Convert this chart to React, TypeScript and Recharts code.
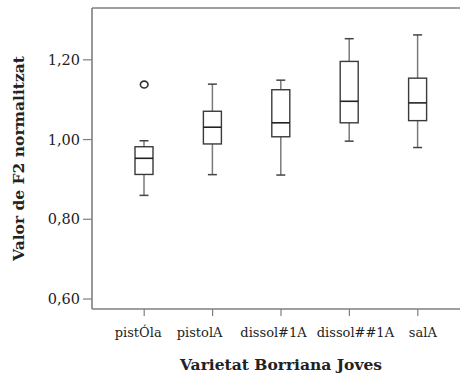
import React from 'react';
import { ComposedChart, Bar, Scatter, XAxis, YAxis, ReferenceLine } from 'recharts';

const categories = ['pistÓla', 'pistolA', 'dissol#1A', 'dissol##1A', 'salA'];
const whiskerLow = [0.86, 0.912, 0.911, 0.996, 0.98];
const q1 = [0.9125, 0.989, 1.007, 1.042, 1.0475];
const median = [0.953, 1.031, 1.042, 1.096, 1.092];
const q3 = [0.982, 1.071, 1.125, 1.196, 1.154];
const whiskerHigh = [0.997, 1.139, 1.149, 1.253, 1.2625];
const outliers: (number | null)[] = [1.138, null, null, null, null];
const yTicks = [0.6, 0.8, 1.0, 1.2];
const yMin = 0.575;
const yMax = 1.33;

// the original labels sit a bit off their tick marks
const labelNudge = [-6, -13, -7.5, 6, 5];

const data = categories.map((name, i) => ({
    name,
    range: [whiskerLow[i], whiskerHigh[i]],
    low: whiskerLow[i],
    q1: q1[i],
    median: median[i],
    q3: q3[i],
    high: whiskerHigh[i],
    outlier: outliers[i],
}));

const font = '"DejaVu Serif", serif';

// draws whiskers + box from the bar geometry of the [low, high] range
const BoxShape = (props: any) => {
    const { x, y, width, height, payload } = props;
    if (x == null || y == null) return null;
    const top = Math.min(y, y + height);
    const h = Math.abs(height);
    const { low, high } = payload;
    const py = (v: number) => top + (h * (high - v)) / (high - low);
    const cx = x + width / 2;
    const boxW = 18;
    const capW = 9;
    const yHigh = py(high);
    const yLow = py(low);
    const yQ3 = py(payload.q3);
    const yQ1 = py(payload.q1);
    const yMed = py(payload.median);
    return (
        <g>
            <line x1={cx} x2={cx} y1={yHigh} y2={yQ3} stroke="#7a7a7a" strokeWidth={1.5} />
            <line x1={cx} x2={cx} y1={yQ1} y2={yLow} stroke="#7a7a7a" strokeWidth={1.5} />
            <line x1={cx - capW / 2} x2={cx + capW / 2} y1={yHigh} y2={yHigh} stroke="#444" strokeWidth={1.5} />
            <line x1={cx - capW / 2} x2={cx + capW / 2} y1={yLow} y2={yLow} stroke="#444" strokeWidth={1.5} />
            <rect x={cx - boxW / 2} y={yQ3} width={boxW} height={yQ1 - yQ3} fill="#fff" stroke="#3a3a3a" strokeWidth={1.4} />
            <line x1={cx - boxW / 2} x2={cx + boxW / 2} y1={yMed} y2={yMed} stroke="#222" strokeWidth={1.6} />
        </g>
    );
};

const OutlierShape = (props: any) => {
    const { cx, cy, payload } = props;
    if (payload == null || payload.outlier == null || cx == null || cy == null) return null;
    return <ellipse cx={cx} cy={cy} rx={3.8} ry={3.4} fill="none" stroke="#333" strokeWidth={1.6} />;
};

const CategoryTick = (props: any) => {
    const { x, y, payload, index } = props;
    const dx = labelNudge[index] ?? 0;
    return (
        <text x={x + dx} y={y} dy={10} textAnchor="middle" fill="#222" fontSize={13} fontFamily={font}>
            {payload.value}
        </text>
    );
};

export default function App() {
    return (
        <div style={{ position: 'fixed', left: 0, top: 0, width: 460, height: 377, overflow: 'hidden', background: '#fff' }}>
            <ComposedChart
                width={480}
                height={377}
                data={data}
                margin={{ top: 8, right: 10, left: 0, bottom: 28 }}
            >
                <XAxis
                    dataKey="name"
                    type="category"
                    padding={{ left: 18, right: 18 }}
                    height={40}
                    tickSize={7}
                    tickMargin={11}
                    interval={0}
                    axisLine={{ stroke: '#7f7f7f', strokeWidth: 1.6 }}
                    tickLine={{ stroke: '#7f7f7f', strokeWidth: 1.2 }}
                    tick={<CategoryTick />}
                    label={{
                        value: 'Varietat Borriana Joves',
                        position: 'bottom',
                        offset: 10,
                        style: { fill: '#222', fontSize: 15.5, fontWeight: 'bold', fontFamily: font },
                    }}
                />
                <YAxis
                    type="number"
                    domain={[yMin, yMax]}
                    ticks={yTicks}
                    allowDataOverflow
                    width={92}
                    tickSize={9}
                    tickMargin={3}
                    tickFormatter={(v: number) => v.toFixed(2).replace('.', ',')}
                    axisLine={{ stroke: '#7f7f7f', strokeWidth: 1.6 }}
                    tickLine={{ stroke: '#7f7f7f', strokeWidth: 1.2 }}
                    tick={{ fill: '#222', fontSize: 14.5, fontFamily: font }}
                    label={{
                        value: 'Valor de F2 normalitzat',
                        angle: -90,
                        position: 'insideLeft',
                        offset: 18,
                        style: { textAnchor: 'middle', fill: '#222', fontSize: 15.5, fontWeight: 'bold', fontFamily: font },
                    }}
                />
                <ReferenceLine y={yMax} stroke="#7f7f7f" strokeWidth={1.6} />
                <Bar dataKey="range" barSize={18} shape={BoxShape} isAnimationActive={false} />
                <Scatter dataKey="outlier" shape={OutlierShape} isAnimationActive={false} />
            </ComposedChart>
        </div>
    );
}
